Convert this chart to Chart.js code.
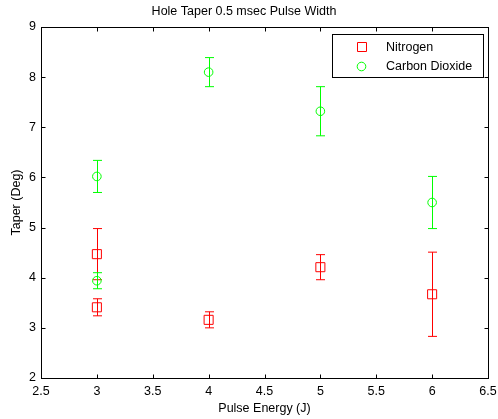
<!DOCTYPE html>
<html>
<head>
<meta charset="utf-8">
<script src="https://cdn.jsdelivr.net/npm/chart.js@4.4.0/dist/chart.umd.min.js"></script>
<style>
  body { margin: 0; background: #fff; }
  #wrap { width: 498px; height: 419px; }
</style>
</head>
<body>
<div id="wrap"><canvas id="js--chart" width="498" height="419"></canvas></div>
<script>
// data
const nitrogenX = [3, 3, 4, 5, 6];
const nitrogenTaper = [4.47, 3.41, 3.16, 4.21, 3.67];
const nitrogenErr = [0.51, 0.17, 0.16, 0.25, 0.84];

const co2X = [3, 3, 4, 5, 6];
const co2Taper = [6.02, 3.94, 8.10, 7.32, 5.50];
const co2Err = [0.32, 0.16, 0.29, 0.49, 0.52];

const xTicks = [2.5, 3, 3.5, 4, 4.5, 5, 5.5, 6, 6.5];
const yTicks = [2, 3, 4, 5, 6, 7, 8, 9];

const FONT = "'Liberation Sans', Arial, sans-serif";

// error bars, drawn under each series' markers
const errorBars = {
  id: 'errorBars',
  beforeDatasetDraw(chart, args) {
    const ctx = chart.ctx;
    const ds = chart.data.datasets[args.index];
    const err = ds.errors;
    const xs = chart.scales.x;
    const ys = chart.scales.y;
    ctx.save();
    ctx.strokeStyle = ds.borderColor;
    ctx.lineWidth = 1;
    ds.data.forEach((p, i) => {
      const x = Math.round(xs.getPixelForValue(p.x)) + 0.5;
      const top = ys.getPixelForValue(p.y + err[i]);
      const bot = ys.getPixelForValue(p.y - err[i]);
      ctx.beginPath();
      ctx.moveTo(x, top);
      ctx.lineTo(x, bot);
      ctx.moveTo(x - 4.5, top);
      ctx.lineTo(x + 4.5, top);
      ctx.moveTo(x - 4.5, bot);
      ctx.lineTo(x + 4.5, bot);
      ctx.stroke();
    });
    ctx.restore();
  }
};

// matlab style box, inward ticks and legend
const frame = {
  id: 'frame',
  afterDraw(chart) {
    const ctx = chart.ctx;
    const a = chart.chartArea;
    const xs = chart.scales.x;
    const ys = chart.scales.y;
    ctx.save();
    ctx.strokeStyle = '#000';
    ctx.lineWidth = 1;
    const L = Math.round(a.left) + 0.5, R = Math.round(a.right) + 0.5;
    const T = Math.round(a.top) + 0.5, B = Math.round(a.bottom) + 0.5;
    ctx.strokeRect(L, T, R - L, B - T);
    ctx.beginPath();
    xTicks.forEach(v => {
      const x = Math.round(xs.getPixelForValue(v)) + 0.5;
      ctx.moveTo(x, B); ctx.lineTo(x, B - 4);
      ctx.moveTo(x, T); ctx.lineTo(x, T + 4);
    });
    yTicks.forEach(v => {
      const y = Math.round(ys.getPixelForValue(v)) + 0.5;
      ctx.moveTo(L, y); ctx.lineTo(L + 4, y);
      ctx.moveTo(R, y); ctx.lineTo(R - 4, y);
    });
    ctx.stroke();

    // legend
    const lx = 332.5, ly = 34.5, lw = 151, lh = 43;
    ctx.fillStyle = '#fff';
    ctx.fillRect(lx, ly, lw, lh);
    ctx.strokeRect(lx, ly, lw, lh);
    ctx.font = '12.5px ' + FONT;
    ctx.textBaseline = 'middle';
    chart.data.datasets.slice().reverse().forEach((ds, i) => {
      const y = 47 + i * 19;
      ctx.strokeStyle = ds.borderColor;
      ctx.beginPath();
      if (ds.pointStyle === 'rect') {
        ctx.rect(357.5, y - 4.5, 9, 9);
      } else {
        ctx.arc(361.5, y + 0.5, 4.3, 0, Math.PI * 2);
      }
      ctx.stroke();
      ctx.fillStyle = '#000';
      ctx.fillText(ds.label, 386, y + 0.5);
    });
    ctx.restore();
  }
};

const config = {
  type: 'scatter',
  data: {
    datasets: [
      {
        label: 'Carbon Dioxide',
        data: co2X.map((x, i) => ({ x: x, y: co2Taper[i] })),
        errors: co2Err,
        borderColor: '#00ff00',
        backgroundColor: 'rgba(0,0,0,0)',
        pointStyle: 'circle',
        pointRadius: 4.3,
        pointBorderWidth: 1,
        order: 1
      },
      {
        label: 'Nitrogen',
        data: nitrogenX.map((x, i) => ({ x: x, y: nitrogenTaper[i] })),
        errors: nitrogenErr,
        borderColor: '#ff0000',
        backgroundColor: 'rgba(0,0,0,0)',
        pointStyle: 'rect',
        pointRadius: 6.4,
        pointBorderWidth: 1,
        order: 2
      }
    ]
  },
  options: {
    responsive: false,
    devicePixelRatio: 1,
    animation: false,
    events: [],
    layout: { padding: { left: 0, right: 10, top: 0, bottom: 0 } },
    plugins: {
      legend: { display: false },
      tooltip: { enabled: false },
      title: {
        display: true,
        text: 'Hole Taper 0.5 msec Pulse Width',
        color: '#000',
        font: { family: FONT, size: 12.5, weight: 'normal', lineHeight: 1.2 },
        padding: { top: 4, bottom: 8 }
      }
    },
    scales: {
      x: {
        type: 'linear',
        min: 2.5,
        max: 6.5,
        grid: { display: true, drawOnChartArea: false, drawTicks: false },
        border: { display: false },
        afterBuildTicks: s => { s.ticks = xTicks.map(v => ({ value: v })); },
        afterFit: s => { s.height = 41; s.paddingLeft = 0; s.paddingRight = 0; },
        ticks: {
          color: '#000',
          padding: 6,
          maxRotation: 0,
          autoSkip: false,
          font: { family: FONT, size: 12.5 },
          callback: v => String(v)
        },
        title: {
          display: true,
          text: 'Pulse Energy (J)',
          color: '#000',
          font: { family: FONT, size: 12.5 },
          padding: { top: 4, bottom: 3 }
        }
      },
      y: {
        type: 'linear',
        min: 2,
        max: 9,
        grid: { display: true, drawOnChartArea: false, drawTicks: false },
        border: { display: false },
        afterBuildTicks: s => { s.ticks = yTicks.map(v => ({ value: v })); },
        afterFit: s => { s.width = 41; s.paddingTop = 0; s.paddingBottom = 0; },
        ticks: {
          color: '#000',
          padding: 5,
          autoSkip: false,
          font: { family: FONT, size: 12.5 },
          callback: v => String(v)
        },
        title: {
          display: true,
          text: 'Taper (Deg)',
          color: '#000',
          font: { family: FONT, size: 12.5 },
          padding: { top: 9, bottom: 0 }
        }
      }
    }
  },
  plugins: [errorBars, frame]
};

const chart1 = new Chart(document.getElementById('js--chart'), config);
</script>
</body>
</html>
